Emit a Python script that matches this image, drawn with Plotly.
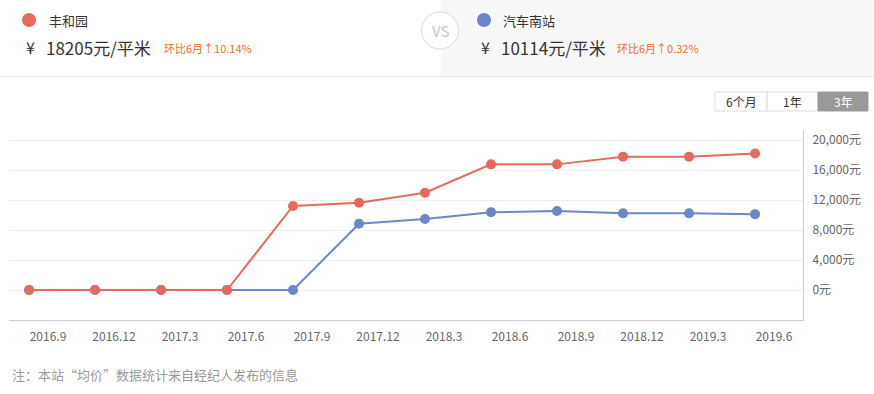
import plotly.graph_objects as go

# ---- data ----
months = ["2016.9", "2016.12", "2017.3", "2017.6", "2017.9", "2017.12",
          "2018.3", "2018.6", "2018.9", "2018.12", "2019.3", "2019.6"]
fenghe = [0, 0, 0, 0, 11200, 11640, 12970, 16750, 16750, 17780, 17780, 18205]
qiche = [0, 0, 0, 0, 0, 8840, 9470, 10360, 10530, 10220, 10220, 10114]
ytick_vals = [0, 4000, 8000, 12000, 16000, 20000]
ytick_text = ["0元", "4,000元", "8,000元", "12,000元", "16,000元", "20,000元"]
name_a, price_a, change_a = "丰和园", "18205元/平米", "环比6月↑10.14%"
name_b, price_b, change_b = "汽车南站", "10114元/平米", "环比6月↑0.32%"
buttons = ["6个月", "1年", "3年"]
note = "注：本站“均价”数据统计来自经纪人发布的信息"

RED = "#e46b5b"
BLUE = "#6b87c8"
ORANGE = "#f06a35"
FONT = "Noto Sans CJK SC"

W, H = 874, 394
L, R, T, B = 9, 803, 130, 320


def px(x):
    return (x - L) / (R - L)


def py(y):
    return (B - y) / (B - T)


xs = list(range(len(months)))

fig = go.Figure()
fig.add_trace(go.Scatter(x=xs, y=qiche, mode="lines+markers", name=name_b,
                         line=dict(color=BLUE, width=2),
                         marker=dict(color=BLUE, size=10)))
fig.add_trace(go.Scatter(x=xs, y=fenghe, mode="lines+markers", name=name_a,
                         line=dict(color=RED, width=2),
                         marker=dict(color=RED, size=10)))

shapes = []
ann = []
# header backgrounds
shapes.append(dict(type="rect", xref="paper", yref="paper", x0=px(0), x1=px(441),
                   y0=py(76), y1=py(0), fillcolor="white", line=dict(width=0), layer="below"))
shapes.append(dict(type="rect", xref="paper", yref="paper", x0=px(441), x1=px(874),
                   y0=py(76), y1=py(0), fillcolor="#f7f7f7", line=dict(width=0), layer="below"))
shapes.append(dict(type="line", xref="paper", yref="paper", x0=px(0), x1=px(874),
                   y0=py(76.5), y1=py(76.5), line=dict(color="#e6e6e6", width=1)))
# VS circle
shapes.append(dict(type="circle", xref="paper", yref="paper", x0=px(421.5), x1=px(458.5),
                   y0=py(49), y1=py(12), fillcolor="white", line=dict(color="#d9d9d9", width=1)))
ann.append(dict(text="VS", x=px(440), y=py(31), xref="paper", yref="paper", showarrow=False,
                font=dict(family=FONT, size=15, color="#c8c8c8"), xanchor="center", yanchor="middle"))
# dots
shapes.append(dict(type="circle", xref="paper", yref="paper", x0=px(22), x1=px(36),
                   y0=py(27), y1=py(13), fillcolor=RED, line=dict(width=0)))
shapes.append(dict(type="circle", xref="paper", yref="paper", x0=px(477), x1=px(491),
                   y0=py(27), y1=py(13), fillcolor=BLUE, line=dict(width=0)))
# header texts
for text, x, y, size, color in [
    (name_a, 47, 20, 13, "#333333"),
    ("¥", 24, 47, 16, "#333333"),
    (price_a, 44, 47, 17, "#333333"),
    (change_a, 162, 48, 11, ORANGE),
    (name_b, 501, 20, 13, "#333333"),
    ("¥", 479, 47, 16, "#333333"),
    (price_b, 499, 47, 17, "#333333"),
    (change_b, 615, 48, 11, ORANGE),
]:
    ann.append(dict(text=text, x=px(x), y=py(y), xref="paper", yref="paper", showarrow=False,
                    font=dict(family=FONT, size=size, color=color), xanchor="left", yanchor="middle"))

# buttons
bx = [715, 767, 818, 868]
for i, lab in enumerate(buttons):
    sel = i == len(buttons) - 1
    shapes.append(dict(type="rect", xref="paper", yref="paper", x0=px(bx[i]), x1=px(bx[i + 1]),
                       y0=py(111), y1=py(92), fillcolor="#999999" if sel else "white",
                       line=dict(color="#999999" if sel else "#dddddd", width=1)))
    ann.append(dict(text=lab, x=px((bx[i] + bx[i + 1]) / 2), y=py(101.5), xref="paper", yref="paper",
                    showarrow=False, font=dict(family=FONT, size=12, color="white" if sel else "#333333"),
                    xanchor="center", yanchor="middle"))

# footnote
ann.append(dict(text=note, x=px(10), y=py(374), xref="paper", yref="paper", showarrow=False,
                font=dict(family=FONT, size=13, color="#999999"), xanchor="left", yanchor="middle"))

fig.update_layout(
    width=W, height=H,
    margin=dict(l=L, r=W - R, t=T, b=H - B, pad=0),
    paper_bgcolor="white", plot_bgcolor="white",
    showlegend=False,
    shapes=shapes, annotations=ann,
    font=dict(family=FONT, size=12, color="#666666"),
)
fig.update_xaxes(
    range=[-0.303, 11.727], tickmode="array", tickvals=xs, ticktext=months,
    showgrid=False, zeroline=False, showline=True, linecolor="#cccccc", linewidth=1,
    ticks="", ticklabelshift=19, ticklabelstandoff=6,
    tickfont=dict(family=FONT, size=12, color="#666666"), fixedrange=True,
)
fig.update_yaxes(
    range=[-4000, 21333], side="right", tickmode="array", tickvals=ytick_vals, ticktext=ytick_text,
    showgrid=True, gridcolor="#eeeeee", gridwidth=1, zeroline=False,
    showline=True, linecolor="#cccccc", linewidth=1, ticks="", ticklabelstandoff=6,
    tickfont=dict(family=FONT, size=12, color="#666666"), fixedrange=True,
)

fig.write_html("out.html", config={"displayModeBar": False},
               post_script="document.body.style.margin='0';document.body.style.overflow='hidden';")
